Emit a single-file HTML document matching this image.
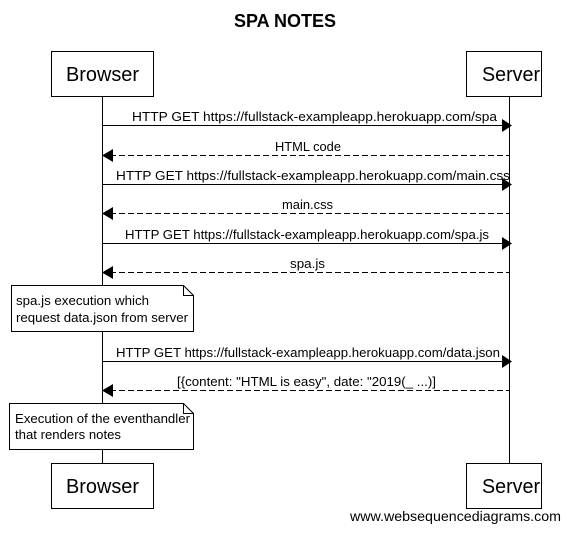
<!DOCTYPE html>
<html><head><style>body{margin:0;background:#fff}</style></head><body>
<svg width="570" height="532" xmlns="http://www.w3.org/2000/svg" font-family="Liberation Sans, Arial, sans-serif">
<rect width="570" height="532" fill="#fff"/>
<text x="285" y="27" font-size="18" font-weight="bold" text-anchor="middle">SPA NOTES</text>
<g stroke="#000" stroke-width="1" fill="#fff">
<line x1="102.5" y1="96" x2="102.5" y2="464"/>
<line x1="509.5" y1="96" x2="509.5" y2="464"/>
<rect x="51.5" y="51.5" width="102" height="45"/>
<rect x="466.5" y="51.5" width="75" height="45"/>
<rect x="51.5" y="463.5" width="102" height="45"/>
<rect x="466.5" y="463.5" width="75" height="45"/>
</g>
<g font-size="20" lengthAdjust="spacingAndGlyphs">
<text x="66" y="81" textLength="73" lengthAdjust="spacingAndGlyphs">Browser</text><text x="482" y="81" textLength="58" lengthAdjust="spacingAndGlyphs">Server</text>
<text x="66" y="493" textLength="73" lengthAdjust="spacingAndGlyphs">Browser</text><text x="482" y="493" textLength="58" lengthAdjust="spacingAndGlyphs">Server</text>
</g>
<g stroke="#000" fill="none">
<line x1="102" y1="125.5" x2="502" y2="125.5"/>
<line x1="110" y1="155.5" x2="509" y2="155.5" stroke-dasharray="6,3"/>
<line x1="102" y1="184.5" x2="502" y2="184.5"/>
<line x1="110" y1="213.5" x2="509" y2="213.5" stroke-dasharray="6,3"/>
<line x1="102" y1="243.5" x2="502" y2="243.5"/>
<line x1="110" y1="272.5" x2="509" y2="272.5" stroke-dasharray="6,3"/>
<line x1="102" y1="361.5" x2="502" y2="361.5"/>
<line x1="110" y1="390.5" x2="509" y2="390.5" stroke-dasharray="6,3"/>
</g>
<g fill="#000">
<polygon points="502,119 512,125.5 502,132"/>
<polygon points="113,149 102,155.5 113,162"/>
<polygon points="502,178 512,184.5 502,191"/>
<polygon points="113,207 102,213.5 113,220"/>
<polygon points="502,237 512,243.5 502,250"/>
<polygon points="113,266 102,272.5 113,279"/>
<polygon points="502,355 512,361.5 502,368"/>
<polygon points="113,384 102,390.5 113,397"/>
</g>
<g font-size="12.5">
<text x="132" y="121" textLength="365" lengthAdjust="spacingAndGlyphs">HTTP GET https://fullstack-exampleapp.herokuapp.com/spa</text>
<text x="275" y="151" textLength="66" lengthAdjust="spacingAndGlyphs">HTML code</text>
<text x="116" y="180" textLength="394" lengthAdjust="spacingAndGlyphs">HTTP GET https://fullstack-exampleapp.herokuapp.com/main.css</text>
<text x="282" y="209" textLength="51" lengthAdjust="spacingAndGlyphs">main.css</text>
<text x="125" y="239" textLength="364" lengthAdjust="spacingAndGlyphs">HTTP GET https://fullstack-exampleapp.herokuapp.com/spa.js</text>
<text x="290" y="268" textLength="35" lengthAdjust="spacingAndGlyphs">spa.js</text>
<text x="116" y="357" textLength="384" lengthAdjust="spacingAndGlyphs">HTTP GET https://fullstack-exampleapp.herokuapp.com/data.json</text>
<text x="177" y="386" textLength="259" lengthAdjust="spacingAndGlyphs">[{content: "HTML is easy", date: "2019(_ ...)]</text>
</g>
<g stroke="#000" fill="#fff">
<path d="M11.5 285.5 H183.5 L193.5 295.5 V331.5 H11.5 Z"/>
<path d="M183.5 285.5 V295.5 H193.5" fill="none"/>
<path d="M9.5 403.5 H183.5 L193.5 413.5 V449.5 H9.5 Z"/>
<path d="M183.5 403.5 V413.5 H193.5" fill="none"/>
</g>
<g font-size="12.5">
<text x="16" y="305" textLength="133" lengthAdjust="spacingAndGlyphs">spa.js execution which</text>
<text x="16" y="322" textLength="172" lengthAdjust="spacingAndGlyphs">request data.json from server</text>
<text x="15" y="423" textLength="175" lengthAdjust="spacingAndGlyphs">Execution of the eventhandler</text>
<text x="15" y="439" textLength="106" lengthAdjust="spacingAndGlyphs">that renders notes</text>
</g>
<text x="350" y="521" font-size="13.5" textLength="211" lengthAdjust="spacingAndGlyphs">www.websequencediagrams.com</text>
</svg>
</body></html>
